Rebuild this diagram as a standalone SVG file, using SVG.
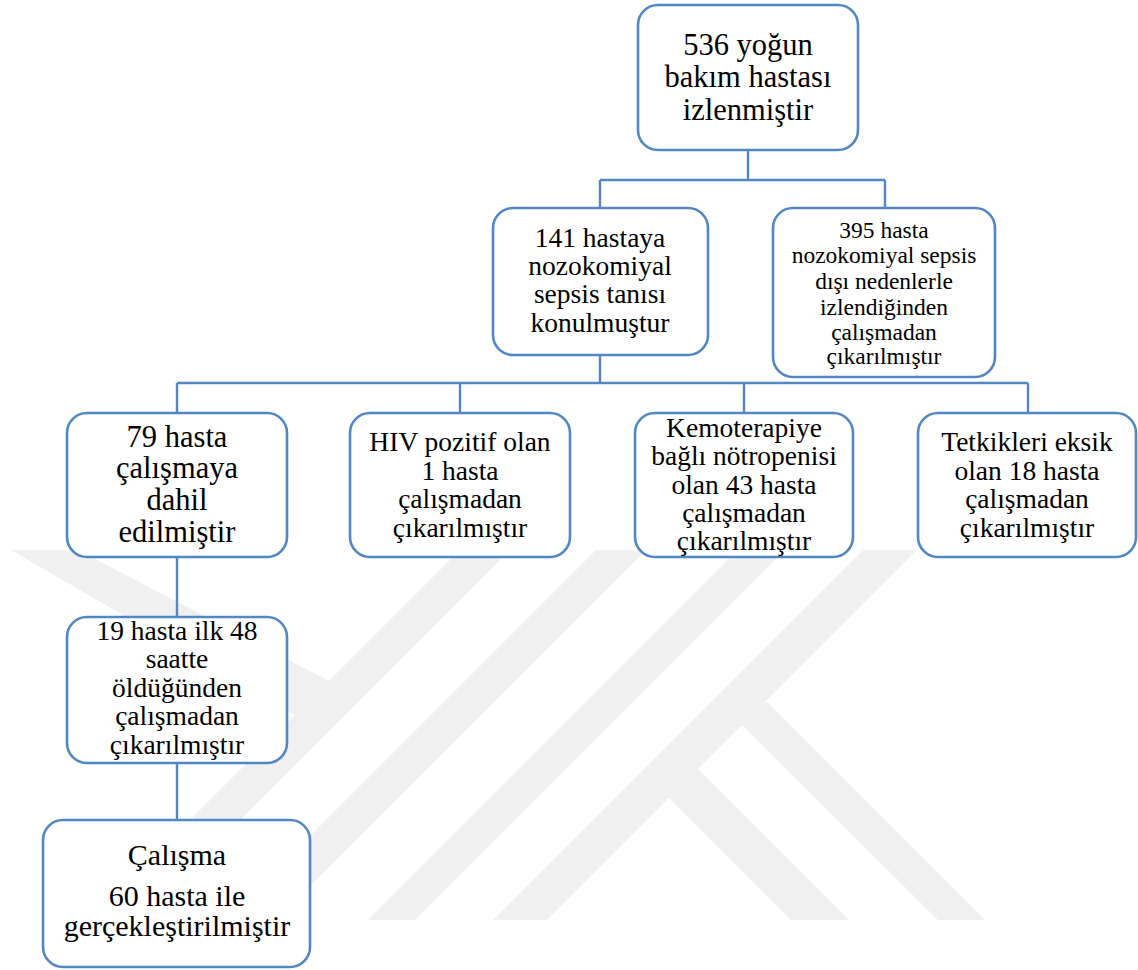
<svg xmlns="http://www.w3.org/2000/svg" width="1138" height="970" viewBox="0 0 1138 970">
<style>
.box{fill:#ffffff;stroke:#5287c4;stroke-width:2.6}
.wire{fill:none;stroke:#5287c4;stroke-width:2.4}
.wm{fill:#f0f0f0}
.f31{font-size:30.5px}
.f30{font-size:30px}
.f27{font-size:27.5px}
.f23{font-size:23.5px}
</style>
<rect width="1138" height="970" fill="#ffffff"/>
<g id="watermark">
<polygon class="wm" points="11,550 78,550 329,681 295,715"/>
<polygon class="wm" points="460,550 510,550 140,920 90,920"/>
<polygon class="wm" points="596,550 646,550 276,920 226,920"/>
<polygon class="wm" points="738,550 785,550 415,920 368,920"/>
<polygon class="wm" points="863,550 917,550 547,920 493,920"/>
<polygon class="wm" points="766,701 985,920 938,920 742,725"/>
<polygon class="wm" points="698,769 849,920 791,920 669,798"/>
</g>
<g id="connectors">
<path class="wire" d="M748,150 V180 M600,180 H885 M600,180 V208 M885,180 V208"/>
<path class="wire" d="M600,355 V383 M177,383 H1028 M177,383 V413 M460,383 V413 M744,383 V413 M1028,383 V413"/>
<path class="wire" d="M177,557 V617 M177,763 V820"/>
</g>
<g font-family="Liberation Serif, serif" fill="#000000" text-anchor="middle">
<g id="n1">
<rect class="box" x="638" y="5" width="220" height="145" rx="20"/>
<text class="f31" font-family="Liberation Serif, serif" x="748" y="55">536 yoğun</text>
<text class="f31" font-family="Liberation Serif, serif" x="748" y="87">bakım hastası</text>
<text class="f31" font-family="Liberation Serif, serif" x="748" y="120">izlenmiştir</text>
</g>
<g id="n2">
<rect class="box" x="493" y="208" width="215" height="147" rx="20"/>
<text class="f27" font-family="Liberation Serif, serif" x="600" y="247">141 hastaya</text>
<text class="f27" font-family="Liberation Serif, serif" x="600" y="275">nozokomiyal</text>
<text class="f27" font-family="Liberation Serif, serif" x="600" y="303">sepsis tanısı</text>
<text class="f27" font-family="Liberation Serif, serif" x="600" y="332">konulmuştur</text>
</g>
<g id="n3">
<rect class="box" x="773" y="208" width="222" height="169" rx="20"/>
<text class="f23" font-family="Liberation Serif, serif" x="884" y="238">395 hasta</text>
<text class="f23" font-family="Liberation Serif, serif" x="884" y="263">nozokomiyal sepsis</text>
<text class="f23" font-family="Liberation Serif, serif" x="884" y="289">dışı nedenlerle</text>
<text class="f23" font-family="Liberation Serif, serif" x="884" y="315">izlendiğinden</text>
<text class="f23" font-family="Liberation Serif, serif" x="884" y="340">çalışmadan</text>
<text class="f23" font-family="Liberation Serif, serif" x="884" y="364">çıkarılmıştır</text>
</g>
<g id="n4">
<rect class="box" x="67" y="413" width="220" height="144" rx="20"/>
<text class="f31" font-family="Liberation Serif, serif" x="177" y="447">79 hasta</text>
<text class="f31" font-family="Liberation Serif, serif" x="177" y="478">çalışmaya</text>
<text class="f31" font-family="Liberation Serif, serif" x="177" y="510">dahil</text>
<text class="f31" font-family="Liberation Serif, serif" x="177" y="542">edilmiştir</text>
</g>
<g id="n5">
<rect class="box" x="350" y="413" width="220" height="144" rx="20"/>
<text class="f27" font-family="Liberation Serif, serif" x="460" y="451">HIV pozitif olan</text>
<text class="f27" font-family="Liberation Serif, serif" x="460" y="480">1 hasta</text>
<text class="f27" font-family="Liberation Serif, serif" x="460" y="508">çalışmadan</text>
<text class="f27" font-family="Liberation Serif, serif" x="460" y="537">çıkarılmıştır</text>
</g>
<g id="n6">
<rect class="box" x="635" y="413" width="218" height="144" rx="20"/>
<text class="f27" font-family="Liberation Serif, serif" x="744" y="437">Kemoterapiye</text>
<text class="f27" font-family="Liberation Serif, serif" x="744" y="465">bağlı nötropenisi</text>
<text class="f27" font-family="Liberation Serif, serif" x="744" y="494">olan 43 hasta</text>
<text class="f27" font-family="Liberation Serif, serif" x="744" y="522">çalışmadan</text>
<text class="f27" font-family="Liberation Serif, serif" x="744" y="550">çıkarılmıştır</text>
</g>
<g id="n7">
<rect class="box" x="918" y="413" width="218" height="144" rx="20"/>
<text class="f27" font-family="Liberation Serif, serif" x="1027" y="451">Tetkikleri eksik</text>
<text class="f27" font-family="Liberation Serif, serif" x="1027" y="480">olan 18 hasta</text>
<text class="f27" font-family="Liberation Serif, serif" x="1027" y="508">çalışmadan</text>
<text class="f27" font-family="Liberation Serif, serif" x="1027" y="537">çıkarılmıştır</text>
</g>
<g id="n8">
<rect class="box" x="67" y="617" width="220" height="146" rx="20"/>
<text class="f27" font-family="Liberation Serif, serif" x="177" y="640">19 hasta ilk 48</text>
<text class="f27" font-family="Liberation Serif, serif" x="177" y="668">saatte</text>
<text class="f27" font-family="Liberation Serif, serif" x="177" y="697">öldüğünden</text>
<text class="f27" font-family="Liberation Serif, serif" x="177" y="725">çalışmadan</text>
<text class="f27" font-family="Liberation Serif, serif" x="177" y="754">çıkarılmıştır</text>
</g>
<g id="n9">
<rect class="box" x="43" y="820" width="267" height="147" rx="20"/>
<text class="f30" font-family="Liberation Serif, serif" x="177" y="865">Çalışma</text>
<text class="f30" font-family="Liberation Serif, serif" x="177" y="906">60 hasta ile</text>
<text class="f30" font-family="Liberation Serif, serif" x="177" y="936">gerçekleştirilmiştir</text>
</g>
</g>
</svg>
